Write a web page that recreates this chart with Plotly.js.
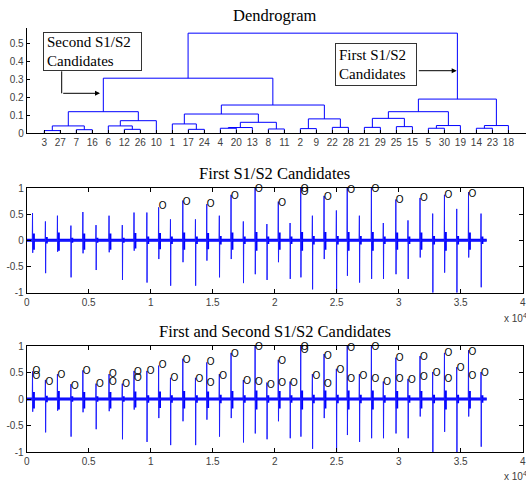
<!DOCTYPE html>
<html><head><meta charset="utf-8">
<script src="https://cdn.plot.ly/plotly-3.0.1.min.js"></script>
<style>html,body{margin:0;padding:0;background:#fff;}#chart{width:526px;height:485px;}</style>
</head><body><div id="chart"></div>
<script>
// ---------------- Dendrogram data ----------------
const leafOrder = [3,27,7,16,6,12,26,10,1,17,24,4,20,13,8,11,2,9,22,28,21,29,25,15,5,30,19,14,23,18];
// linkage rows: cluster id = 31 + row index
const linkLeft   = [3, 7, 31,12,6, 35,33,17,1, 4, 40,8, 41,39,2, 22,45,44,37,21,25,50,5, 53,52,14,56,55,49];
const linkRight  = [27,16,32,26,34,10,36,24,38,20,13,11,42,43,9, 28,46,47,48,29,15,51,30,19,54,23,18,57,58];
const linkHeight = [0.015,0.020,0.041,0.022,0.041,0.070,0.120,0.022,0.052,0.028,0.032,0.024,0.061,0.107,
                    0.026,0.033,0.080,0.157,0.306,0.033,0.037,0.083,0.028,0.043,0.120,0.028,0.043,0.190,0.556];
const dendroYTicks = [0,0.1,0.2,0.3,0.4,0.5];
const dendroYTickText = ['0','0.1','0.2','0.3','0.4','0.5'];

// ---------------- Signal data (samples) ----------------
const signalEnd = 37100;
const eventSample = [470,1510,2480,3565,4530,5590,6640,7710,8655,9690,10640,11595,12590,13610,14520,15535,16480,17470,18420,19370,
                     20290,21240,22100,23040,23980,24975,25850,26830,27800,28760,29770,30750,31720,32740,33690,34680,35630,36640];
const eventUp   = [0.52,0.36,0.47,0.28,0.54,0.29,0.47,0.29,0.53,0.53,0.63,0.40,0.76,0.40,0.69,0.47,0.87,0.36,1.00,0.31,
                   0.74,0.33,1.00,0.47,0.85,0.57,1.00,0.47,1.00,0.33,0.78,0.38,0.81,0.51,0.87,0.60,0.92,0.51];
const eventDown = [-0.24,-0.63,-0.22,-0.71,-0.25,-0.57,-0.23,-0.76,-0.20,-0.81,-0.36,-0.87,-0.42,-0.87,-0.39,-0.71,-0.36,-0.82,-0.65,-0.76,
                   -0.42,-0.74,-0.71,-0.94,-0.36,-1.05,-0.68,-0.81,-0.74,-0.74,-0.65,-0.74,-0.33,-1.05,-0.62,-1.05,-0.33,-0.90];
const burstHi = [0.13,0.06,0.15,0.05,0.13,0.05,0.13,0.05,0.14,0.07,0.14,0.07,0.15,0.07,0.14,0.08,0.15,0.07,0.16,0.07,
                 0.15,0.07,0.16,0.08,0.16,0.08,0.16,0.08,0.16,0.07,0.15,0.07,0.15,0.08,0.16,0.08,0.15,0.07];
const burstLo = [-0.18,-0.06,-0.2,-0.05,-0.18,-0.05,-0.18,-0.05,-0.16,-0.07,-0.17,-0.07,-0.18,-0.07,-0.17,-0.08,-0.18,-0.07,-0.2,-0.07,
                 -0.18,-0.07,-0.2,-0.08,-0.18,-0.08,-0.2,-0.08,-0.2,-0.07,-0.18,-0.07,-0.18,-0.08,-0.2,-0.08,-0.18,-0.07];

// ---------------- Candidates ----------------
const firstX = [10640,12590,14520,16480,18420,20290,22100,22100,23980,25850,27800,29770,31720,33690,35630];
const firstY = [0.64,0.73,0.68,0.84,0.98,0.71,0.98,0.92,0.81,0.95,0.97,0.76,0.79,0.85,0.87];
const secondX = [470,470,1510,2480,3565,4530,5590,6640,6640,7710,8655,8655,9690,11595,13610,14520,15535,17470,18420,19370,
                 20290,21240,23040,23980,24975,25850,26830,27800,28760,29770,30750,31720,32740,33690,34680,35630,36640];
const secondY = [0.51,0.43,0.32,0.44,0.24,0.51,0.28,0.46,0.32,0.28,0.50,0.39,0.51,0.38,0.36,0.29,0.42,0.33,0.31,0.25,
                 0.29,0.29,0.42,0.27,0.53,0.36,0.42,0.37,0.31,0.37,0.35,0.41,0.48,0.36,0.57,0.42,0.48];

const xTickVals = [0,5000,10000,15000,20000,25000,30000,35000,40000];
const xTickText = ['0','0.5','1','1.5','2','2.5','3','3.5','4'];
const yTickVals = [-1,-0.5,0,0.5,1];
const yTickText = ['-1','-0.5','0','0.5','1'];

// ---------------- Build ----------------
const W = 526, H = 485;
const px = p => p / W;
const py = p => 1 - p / H;
const BLUE = 'rgb(0,0,255)';

// dendrogram coordinates
const nodeX = {}, nodeH = {};
leafOrder.forEach((lab, i) => { nodeX[lab] = i + 1; nodeH[lab] = 0; });
const dx = [], dy = [];
for (let k = 0; k < linkLeft.length; k++) {
  const a = linkLeft[k], b = linkRight[k], h = linkHeight[k], id = 31 + k;
  dx.push(nodeX[a], nodeX[a], nodeX[b], nodeX[b], null);
  dy.push(nodeH[a], h, h, nodeH[b], null);
  nodeX[id] = (nodeX[a] + nodeX[b]) / 2;
  nodeH[id] = h;
}

function signalTraces(xa, ya) {
  const sx = [0], sy = [0];
  const bx = [], by = [];
  for (let i = 0; i < eventSample.length; i++) {
    const s = eventSample[i];
    sx.push(s - 20, s, s + 15, s + 35);
    sy.push(0, eventUp[i], eventDown[i], 0);
    bx.push(s + 90, s + 90, null);
    by.push(burstLo[i], burstHi[i], null);
  }
  sx.push(signalEnd); sy.push(0);
  return [
    {x: [0, signalEnd], y: [0, 0], mode: 'lines', line: {color: BLUE, width: 3.2}, xaxis: xa, yaxis: ya, hoverinfo: 'skip'},
    {x: bx, y: by, mode: 'lines', line: {color: BLUE, width: 2.5}, xaxis: xa, yaxis: ya, hoverinfo: 'skip'},
    {x: sx, y: sy, mode: 'lines', line: {color: 'rgb(30,30,255)', width: 1}, xaxis: xa, yaxis: ya, hoverinfo: 'skip'}
  ];
}
function circleTrace(xs, ys, xa, ya) {
  return {x: xs, y: ys, mode: 'text', text: xs.map(() => 'O'), textposition: 'middle right',
          textfont: {family: 'Liberation Sans, Arial, sans-serif', size: 10, color: '#000'},
          cliponaxis: false, xaxis: xa, yaxis: ya, hoverinfo: 'skip'};
}

const traces = [
  {x: dx, y: dy, mode: 'lines', line: {color: BLUE, width: 1}, xaxis: 'x', yaxis: 'y', hoverinfo: 'skip'},
  ...signalTraces('x2', 'y2'),
  circleTrace(firstX, firstY, 'x2', 'y2'),
  ...signalTraces('x3', 'y3'),
  circleTrace(firstX, firstY, 'x3', 'y3'),
  circleTrace(secondX, secondY, 'x3', 'y3')
];

const tickFont = {family: 'Liberation Sans, Arial, sans-serif', size: 10, color: '#404040'};
const xDom = [px(26.7), px(522.7)];
function sigX(anchor) {
  return {domain: xDom, range: [0, 40000], tickvals: xTickVals, ticktext: xTickText, ticks: 'inside', ticklen: 4,
          tickcolor: '#000', showline: true, linecolor: '#000', linewidth: 1, mirror: 'ticks', showgrid: false,
          zeroline: false, tickfont: tickFont, anchor: anchor};
}
function sigY(dom, anchor) {
  return {domain: dom, range: [-1, 1], tickvals: yTickVals, ticktext: yTickText, ticks: 'inside', ticklen: 4,
          tickcolor: '#000', showline: true, linecolor: '#000', linewidth: 1, mirror: 'ticks', showgrid: false,
          zeroline: false, tickfont: tickFont, anchor: anchor};
}
const serif = 'Liberation Serif, Times New Roman, serif';
const titleFont = {family: serif, size: 16.5, color: '#000'};
const boxFont = {family: serif, size: 15, color: '#000'};

const layout = {
  width: W, height: H, margin: {l: 0, r: 0, t: 0, b: 0}, showlegend: false,
  paper_bgcolor: '#fff', plot_bgcolor: '#fff',
  xaxis: {domain: [px(26.7), 1], range: [-0.1, 31.1], tickvals: leafOrder.map((_, i) => i + 1), ticktext: leafOrder.map(String),
          ticks: 'inside', ticklen: 3, tickcolor: '#000', showline: true, linecolor: '#000', linewidth: 1, showgrid: false,
          zeroline: false, tickfont: tickFont, anchor: 'y'},
  yaxis: {domain: [py(133.3), py(28.3)], range: [0, 0.583], tickvals: dendroYTicks, ticktext: dendroYTickText,
          ticks: 'inside', ticklen: 3, tickcolor: '#000', showline: true, linecolor: '#000', linewidth: 1, showgrid: false,
          zeroline: false, tickfont: tickFont, anchor: 'x'},
  xaxis2: sigX('y2'),
  yaxis2: sigY([py(292.5), py(188)], 'x2'),
  xaxis3: sigX('y3'),
  yaxis3: sigY([py(452), py(346)], 'x3'),
  shapes: [
    {type: 'line', xref: 'paper', yref: 'paper', x0: px(61.7), x1: px(61.7), y0: py(71.3), y1: py(93.3), line: {color: '#000', width: 1}}
  ],
  annotations: [
    {text: 'Dendrogram', xref: 'paper', yref: 'paper', x: px(274.7), y: py(15), xanchor: 'center', yanchor: 'middle', showarrow: false, font: titleFont},
    {text: 'First S1/S2 Candidates', xref: 'paper', yref: 'paper', x: px(274.7), y: py(173), xanchor: 'center', yanchor: 'middle', showarrow: false, font: titleFont},
    {text: 'First and Second S1/S2 Candidates', xref: 'paper', yref: 'paper', x: px(274.7), y: py(331), xanchor: 'center', yanchor: 'middle', showarrow: false, font: titleFont},
    {text: 'Second S1/S2<br>Candidates', xref: 'paper', yref: 'paper', x: px(42.7), y: py(32.3), xanchor: 'left', yanchor: 'top',
     width: 98.6 - 8, height: 39 - 8, align: 'left', valign: 'middle', showarrow: false, font: boxFont,
     bordercolor: '#333', borderwidth: 1, borderpad: 3, bgcolor: '#fff'},
    {text: 'First S1/S2<br>Candidates', xref: 'paper', yref: 'paper', x: px(335), y: py(43.3), xanchor: 'left', yanchor: 'top',
     width: 82.3 - 8, height: 43.4 - 8, align: 'left', valign: 'middle', showarrow: false, font: boxFont,
     bordercolor: '#333', borderwidth: 1, borderpad: 3, bgcolor: '#fff'},
    {text: '', xref: 'paper', yref: 'paper', x: px(100), y: py(93.3), ax: -38.3, ay: 0, showarrow: true,
     arrowhead: 2, arrowsize: 1, arrowwidth: 1, arrowcolor: '#000', standoff: 0},
    {text: '', xref: 'paper', yref: 'paper', x: px(456.7), y: py(70.7), ax: -39.4, ay: 0, showarrow: true,
     arrowhead: 2, arrowsize: 1, arrowwidth: 1, arrowcolor: '#000', standoff: 0},
    {text: 'x 10<sup>4</sup>', xref: 'paper', yref: 'paper', x: px(501.7), y: py(318), xanchor: 'left', yanchor: 'middle', showarrow: false, font: tickFont},
    {text: 'x 10<sup>4</sup>', xref: 'paper', yref: 'paper', x: px(501.7), y: py(476), xanchor: 'left', yanchor: 'middle', showarrow: false, font: tickFont}
  ]
};

Plotly.newPlot('chart', traces, layout, {staticPlot: true, displayModeBar: false});
</script>
</body></html>
